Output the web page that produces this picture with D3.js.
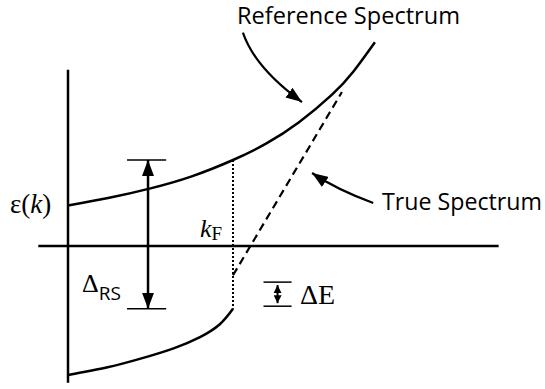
<!DOCTYPE html>
<html>
<head>
<meta charset="utf-8">
<script src="https://cdn.jsdelivr.net/npm/d3@7"></script>
<style>
  body { margin: 0; background: #fff; }
  svg { display: block; }
  .serif { font-family: "Liberation Serif", "DejaVu Serif", serif; }
  .sans { font-family: "Open Sans", "Liberation Sans", sans-serif; }
</style>
</head>
<body>
<div id="chart"></div>
<script>
// k in units of kF, energy in units of the reference spectrum at kF
var refK   = [0, 0.25, 0.5, 0.75, 1.0, 1.2, 1.4, 1.6, 1.73, 1.86];
var refEps = [0.47, 0.56, 0.67, 0.81, 1.00, 1.19, 1.44, 1.76, 2.03, 2.37];

// true spectrum: occupied branch below kF (solid)
var lowK   = [0, 0.24, 0.44, 0.64, 0.80, 0.92, 1.0];
var lowEps = [-1.50, -1.41, -1.31, -1.19, -1.06, -0.91, -0.73];

// true spectrum above kF (dashed)
var highK   = [1.0, 1.66];
var highEps = [-0.34, 1.79];

var kF = 1.0;
var deltaK = 0.485;              // where the Delta_RS arrow stands
var dEk = 1.27, dEeps = [-0.42, -0.70];

// annotation arrows (k, eps): start, control, tip
var refArrow  = [[1.06, 2.48], [1.133, 2.07], [1.418, 1.674]];
var trueArrow = [[1.85, 0.50], [1.625, 0.66], [1.479, 0.849]];

var width = 545, height = 389;

var x = d3.scaleLinear().domain([0, 1]).range([68, 233]);
var y = d3.scaleLinear().domain([0, 1]).range([246, 160]);

var svg = d3.select('#chart').append('svg')
    .attr('width', width)
    .attr('height', height);

var defs = svg.append('defs');
defs.append('marker')
    .attr('id', 'head')
    .attr('markerUnits', 'userSpaceOnUse')
    .attr('viewBox', '0 0 16 12')
    .attr('refX', 16).attr('refY', 6)
    .attr('markerWidth', 16).attr('markerHeight', 12)
    .attr('orient', 'auto-start-reverse')
    .append('path').attr('d', 'M0,0 L16,6 L0,12 Z').attr('fill', '#000');
defs.append('marker')
    .attr('id', 'smallhead')
    .attr('markerUnits', 'userSpaceOnUse')
    .attr('viewBox', '0 0 8 8')
    .attr('refX', 8).attr('refY', 4)
    .attr('markerWidth', 8).attr('markerHeight', 8)
    .attr('orient', 'auto-start-reverse')
    .append('path').attr('d', 'M0,0 L8,4 L0,8 Z').attr('fill', '#000');

// axes
svg.append('line')
    .attr('x1', x(0)).attr('x2', x(0))
    .attr('y1', y(2.05)).attr('y2', y(-1.59))
    .attr('stroke', '#000').attr('stroke-width', 2.5);
svg.append('line')
    .attr('x1', x(-0.18)).attr('x2', x(2.61))
    .attr('y1', y(0)).attr('y2', y(0))
    .attr('stroke', '#000').attr('stroke-width', 2.5);

var line = d3.line()
    .x(function(d) { return x(d[0]); })
    .y(function(d) { return y(d[1]); })
    .curve(d3.curveNatural);

svg.append('path')
    .datum(d3.zip(refK, refEps))
    .attr('d', line)
    .attr('fill', 'none').attr('stroke', '#000').attr('stroke-width', 2.5);

svg.append('path')
    .datum(d3.zip(lowK, lowEps))
    .attr('d', line)
    .attr('fill', 'none').attr('stroke', '#000').attr('stroke-width', 2.5);

svg.append('path')
    .datum(d3.zip(highK, highEps))
    .attr('d', line.curve(d3.curveLinear))
    .attr('fill', 'none').attr('stroke', '#000').attr('stroke-width', 2.2)
    .attr('stroke-dasharray', '8,5');

// dotted line at kF
var topF = refEps[refK.indexOf(kF)], botF = lowEps[lowK.indexOf(kF)];
svg.append('line')
    .attr('x1', x(kF)).attr('x2', x(kF))
    .attr('y1', y(topF)).attr('y2', y(botF))
    .attr('stroke', '#000').attr('stroke-width', 2)
    .attr('stroke-dasharray', '2,2');

// Delta_RS
[topF, botF].forEach(function(v) {
  svg.append('line')
      .attr('x1', x(deltaK - 0.127)).attr('x2', x(deltaK + 0.11))
      .attr('y1', y(v)).attr('y2', y(v))
      .attr('stroke', '#000').attr('stroke-width', 1.5);
});
svg.append('line')
    .attr('x1', x(deltaK)).attr('x2', x(deltaK))
    .attr('y1', y(topF)).attr('y2', y(botF))
    .attr('stroke', '#000').attr('stroke-width', 2.5)
    .attr('marker-start', 'url(#head)')
    .attr('marker-end', 'url(#head)');

// Delta E
dEeps.forEach(function(v) {
  svg.append('line')
      .attr('x1', x(dEk - 0.085)).attr('x2', x(dEk + 0.085))
      .attr('y1', y(v)).attr('y2', y(v))
      .attr('stroke', '#000').attr('stroke-width', 1.5);
});
svg.append('line')
    .attr('x1', x(dEk)).attr('x2', x(dEk))
    .attr('y1', y(dEeps[0]) + 3).attr('y2', y(dEeps[1]) - 3)
    .attr('stroke', '#000').attr('stroke-width', 2)
    .attr('marker-start', 'url(#smallhead)')
    .attr('marker-end', 'url(#smallhead)');

// curved annotation arrows
[refArrow, trueArrow].forEach(function(pts) {
  var p = d3.path();
  p.moveTo(x(pts[0][0]), y(pts[0][1]));
  p.quadraticCurveTo(x(pts[1][0]), y(pts[1][1]), x(pts[2][0]), y(pts[2][1]));
  svg.append('path')
      .attr('d', p.toString())
      .attr('fill', 'none').attr('stroke', '#000').attr('stroke-width', 2.2)
      .attr('marker-end', 'url(#head)');
});

// labels
svg.append('text').attr('class', 'sans')
    .attr('x', 237).attr('y', 24)
    .attr('font-size', 23.5)
    .attr('textLength', 223).attr('lengthAdjust', 'spacingAndGlyphs')
    .text('Reference Spectrum');
svg.append('text').attr('class', 'sans')
    .attr('x', 382).attr('y', 210)
    .attr('font-size', 23)
    .attr('textLength', 160).attr('lengthAdjust', 'spacingAndGlyphs')
    .text('True Spectrum');

var eps = svg.append('text').attr('class', 'serif')
    .attr('x', 10).attr('y', 213).attr('font-size', 27);
eps.append('tspan').text('ε(');
eps.append('tspan').attr('font-style', 'italic').text('k');
eps.append('tspan').text(')');

var kf = svg.append('text').attr('class', 'serif')
    .attr('x', 200).attr('y', 237).attr('font-size', 26);
kf.append('tspan').attr('font-style', 'italic').text('k');
kf.append('tspan').attr('font-size', 19).attr('dy', 3).text('F');

var drs = svg.append('text')
    .attr('x', 82).attr('y', 292);
drs.append('tspan').attr('class', 'serif').attr('font-size', 26).text('Δ');
drs.append('tspan').attr('class', 'sans').attr('font-size', 19).attr('dy', 8).text('RS');

svg.append('text').attr('class', 'serif')
    .attr('x', 300).attr('y', 304).attr('font-size', 28)
    .text('ΔE');
</script>
</body>
</html>
